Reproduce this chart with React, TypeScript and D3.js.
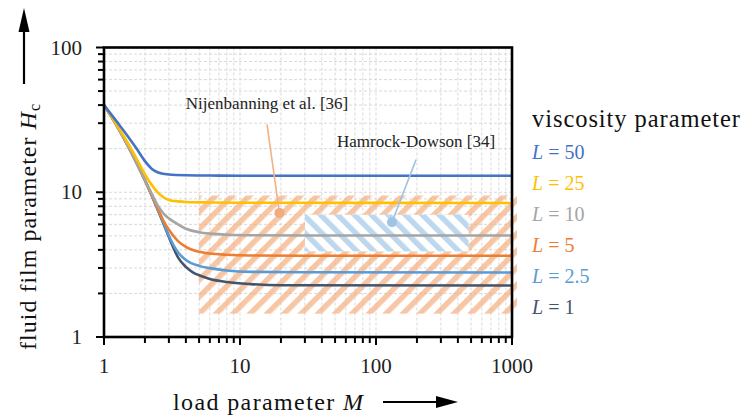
import React from 'react';
import * as d3 from 'd3';

// ---------- data ----------
const viscosityLabels = ['50', '25', '10', '5', '2.5', '1'];
const seriesColors = ['#4472C4', '#FFC000', '#A5A5A5', '#ED7D31', '#5B9BD5', '#44546A'];

const curveL50: [number, number][] = [[1, 40], [1.25, 30.5], [1.5, 24.3], [1.75, 19.8], [2, 16.4], [2.25, 14.5], [2.5, 13.7], [3, 13.25], [4, 13.1], [6, 13.05], [10, 13.0], [1000, 13.0]];
const curveL25: [number, number][] = [[1, 40], [1.25, 29], [1.5, 21.8], [1.75, 16.8], [2, 13.3], [2.25, 11.2], [2.5, 9.9], [2.75, 9.2], [3, 8.85], [3.5, 8.65], [4, 8.57], [6, 8.5], [10, 8.47], [1000, 8.43]];
const curveL10: [number, number][] = [[1, 40], [1.25, 28.5], [1.5, 20.9], [1.75, 15.7], [2, 12.2], [2.25, 9.7], [2.5, 8.0], [2.75, 7.1], [3, 6.6], [3.5, 6.0], [4, 5.6], [5, 5.3], [6, 5.18], [8, 5.09], [12, 5.05], [30, 5.03], [1000, 5.03]];
const curveL5: [number, number][] = [[1, 40], [1.25, 28.5], [1.5, 20.9], [1.75, 15.7], [2, 12.1], [2.25, 9.5], [2.5, 7.6], [2.75, 6.3], [3, 5.5], [3.5, 4.6], [4, 4.2], [5, 3.88], [6, 3.77], [8, 3.70], [12, 3.66], [30, 3.64], [1000, 3.64]];
const curveL2_5: [number, number][] = [[1, 40], [1.25, 28.5], [1.5, 20.9], [1.75, 15.7], [2, 12.1], [2.25, 9.45], [2.5, 7.5], [2.75, 6.1], [3, 5.0], [3.25, 4.3], [3.5, 3.85], [4, 3.4], [5, 3.1], [6, 2.99], [8, 2.88], [12, 2.82], [30, 2.80], [1000, 2.79]];
const curveL1: [number, number][] = [[1, 40], [1.25, 28.5], [1.5, 20.9], [1.75, 15.7], [2, 12.1], [2.25, 9.42], [2.5, 7.46], [2.75, 6.0], [3, 4.9], [3.25, 4.1], [3.5, 3.55], [4, 3.05], [4.5, 2.8], [5, 2.67], [6, 2.52], [8, 2.4], [12, 2.32], [20, 2.28], [1000, 2.27]];
const seriesCurves = [curveL50, curveL25, curveL10, curveL5, curveL2_5, curveL1];

// hatched regions: [Mmin, Mmax], [Hmin, Hmax]
const nijenbanningM = [5, 1000];
const nijenbanningH = [1.45, 9.5];
const hamrockM = [30, 480];
const hamrockH = [3.9, 7.0];

// annotations (M, H)
const nijenbanningText = 'Nijenbanning et al. [36]';
const nijenbanningLabelPos = [15.8, 37.3];
const nijenbanningLeader = [15.8, 29.4];
const nijenbanningDot = [19.5, 7.2];
const hamrockText = 'Hamrock-Dowson [34]';
const hamrockLabelPos = [197, 20.7];
const hamrockLeader = [197, 16.8];
const hamrockDot = [131, 6.2];

const xTickValues = [1, 10, 100, 1000];
const yTickValues = [1, 10, 100];

// ---------- layout ----------
const W = 741;
const HGT = 419;
const plot = { left: 104, right: 512, top: 47.5, bottom: 337 };
const FONT = '"Liberation Serif", "Times New Roman", serif';

export default function App() {
  const x = d3.scaleLog().domain([1, 1000]).range([plot.left, plot.right]);
  const y = d3.scaleLog().domain([1, 100]).range([plot.bottom, plot.top]);

  const minorX: number[] = [];
  [1, 10, 100].forEach((d) => { for (let k = 1; k < 10; k++) minorX.push(d * k); });
  const minorY: number[] = [];
  [1, 10].forEach((d) => { for (let k = 1; k < 10; k++) minorY.push(d * k); });

  const line = d3.line<[number, number]>()
    .x((d) => x(d[0]))
    .y((d) => y(d[1]))
    .curve(d3.curveMonotoneX);

  const drawOrder = [5, 4, 3, 2, 1, 0];

  const orangeRect = {
    x: x(nijenbanningM[0]), y: y(nijenbanningH[1]),
    w: x(nijenbanningM[1]) - x(nijenbanningM[0]) + 5,
    h: y(nijenbanningH[0]) - y(nijenbanningH[1]),
  };
  const blueRect = {
    x: x(hamrockM[0]), y: y(hamrockH[1]),
    w: x(hamrockM[1]) - x(hamrockM[0]),
    h: y(hamrockH[0]) - y(hamrockH[1]),
  };

  return (
    <svg width={W} height={HGT} style={{ position: 'absolute', left: 0, top: 0, background: '#fff' }} fontFamily={FONT}>
      <defs>
        <pattern id="hatchOrange" patternUnits="userSpaceOnUse" width="12" height="12" patternTransform="rotate(45)">
          <rect x="0" y="0" width="5.5" height="12" fill="#F4B183" fillOpacity="0.72" />
        </pattern>
        <pattern id="hatchBlue" patternUnits="userSpaceOnUse" width="12" height="12" patternTransform="rotate(-45)">
          <rect x="0" y="0" width="5.5" height="12" fill="#BDD7EE" />
        </pattern>
      </defs>
      <rect width={W} height={HGT} fill="#fff" />

      {/* grid */}
      <g stroke="#D9D9D9" strokeWidth={1} strokeDasharray="3,2">
        {minorX.filter((d) => d > 1 && d < 1000).map((d) => (
          <line key={'gx' + d} x1={x(d)} x2={x(d)} y1={plot.top} y2={plot.bottom} />
        ))}
        {minorY.filter((d) => d > 1 && d < 100).map((d) => (
          <line key={'gy' + d} x1={plot.left} x2={plot.right} y1={y(d)} y2={y(d)} />
        ))}
      </g>

      {/* hatched regions */}
      <rect x={orangeRect.x} y={orangeRect.y} width={orangeRect.w} height={orangeRect.h} fill="url(#hatchOrange)" />
      <rect x={blueRect.x} y={blueRect.y} width={blueRect.w} height={blueRect.h} fill="#fff" />
      <rect x={blueRect.x} y={blueRect.y} width={blueRect.w} height={blueRect.h} fill="url(#hatchBlue)" />

      {/* curves */}
      {drawOrder.map((i) => (
        <path key={'c' + i} d={line(seriesCurves[i]) || ''} fill="none" stroke={seriesColors[i]} strokeWidth={2.6} strokeLinejoin="round" />
      ))}

      {/* annotations */}
      <text x={x(nijenbanningLabelPos[0])} y={y(nijenbanningLabelPos[1])} textAnchor="middle" fontSize={17} fill="#222">{nijenbanningText}</text>
      <line x1={x(nijenbanningLeader[0])} y1={y(nijenbanningLeader[1])} x2={x(nijenbanningDot[0])} y2={y(nijenbanningDot[1])} stroke="#F4B183" strokeWidth={1.6} />
      <circle cx={x(nijenbanningDot[0])} cy={y(nijenbanningDot[1])} r={5} fill="#F1AB7E" />
      <text x={x(hamrockLabelPos[0])} y={y(hamrockLabelPos[1])} textAnchor="middle" fontSize={17} fill="#222">{hamrockText}</text>
      <line x1={x(hamrockLeader[0])} y1={y(hamrockLeader[1])} x2={x(hamrockDot[0])} y2={y(hamrockDot[1])} stroke="#9DC3E6" strokeWidth={1.6} />
      <circle cx={x(hamrockDot[0])} cy={y(hamrockDot[1])} r={5} fill="#9DC3E6" />

      {/* frame */}
      <rect x={plot.left} y={plot.top} width={plot.right - plot.left} height={plot.bottom - plot.top} fill="none" stroke="#000" strokeWidth={2.6} />

      {/* ticks */}
      <g stroke="#000" strokeWidth={2}>
        {minorX.concat([1000]).map((d) => (
          <line key={'tx' + d} x1={x(d)} x2={x(d)} y1={plot.bottom} y2={plot.bottom + (xTickValues.includes(d) ? 8 : 6)} />
        ))}
        {minorY.concat([100]).map((d) => (
          <line key={'ty' + d} x1={plot.left - (yTickValues.includes(d) ? 8 : 6)} x2={plot.left} y1={y(d)} y2={y(d)} />
        ))}
      </g>

      {/* tick labels */}
      {xTickValues.map((d) => (
        <text key={'xl' + d} x={x(d)} y={373} textAnchor="middle" fontSize={21} fill="#222">{d}</text>
      ))}
      {yTickValues.map((d) => (
        <text key={'yl' + d} x={82} y={y(d) + 7} textAnchor="end" fontSize={21} fill="#222">{d}</text>
      ))}

      {/* axis titles */}
      <text x={173} y={410} fontSize={24} fill="#111" textLength={190} lengthAdjust="spacing">
        load parameter <tspan fontStyle="italic">M</tspan>
      </text>
      <line x1={383} x2={440} y1={402} y2={402} stroke="#000" strokeWidth={2.2} />
      <path d="M458,402 L436,396 L436,408 Z" fill="#000" />

      <g transform="translate(36,227) rotate(-90)">
        <text x={0} y={0} textAnchor="middle" fontSize={24} fill="#111" textLength={246} lengthAdjust="spacing">
          fluid film parameter <tspan fontStyle="italic">H</tspan><tspan fontSize={16} dy={4}>c</tspan>
        </text>
      </g>
      <line x1={24} x2={24} y1={84} y2={28} stroke="#000" strokeWidth={2.2} />
      <path d="M24,8 L18.5,32 L29.5,32 Z" fill="#000" />

      {/* legend */}
      <text x={532} y={127} fontSize={24.5} fill="#111" textLength={208} lengthAdjust="spacing">viscosity parameter</text>
      {viscosityLabels.map((lab, i) => (
        <text key={'lg' + i} x={532} y={159 + i * 31} fontSize={20} fill={seriesColors[i]}>
          <tspan fontStyle="italic">L</tspan> = {lab}
        </text>
      ))}
    </svg>
  );
}
